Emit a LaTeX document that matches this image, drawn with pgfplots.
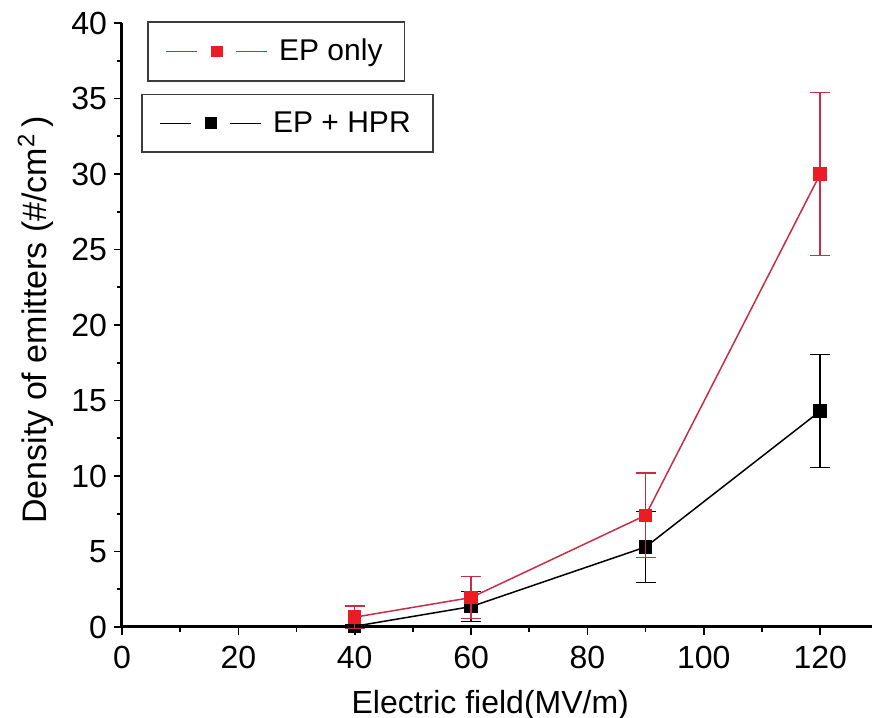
\documentclass[border=0pt]{standalone}
\usepackage{pgfplots}
\pgfplotsset{compat=1.18}
\usepackage{fontspec}
\setmainfont{Liberation Sans}
\definecolor{epred}{RGB}{236,28,36}
\definecolor{epline}{RGB}{200,45,70}
\definecolor{legframe}{RGB}{60,60,60}
\pgfplotstableread{
x y e
40 0.65 0.75
60 1.95 1.40
90 7.40 2.80
120 30.0 5.40
}\eponly
\pgfplotstableread{
x y e
40 0.05 0.10
60 1.35 1.00
90 5.30 2.35
120 14.3 3.75
}\ephpr
\begin{document}
\begin{tikzpicture}
\pgfplotsset{
  common/.style={
    width=375pt, height=302pt, scale only axis,
    xmin=0, xmax=128.9, ymin=0, ymax=40,
    clip=false,
    at={(0pt,0pt)}, anchor=south west,
    legend cell align=left,
  },
}
\begin{axis}[common,
  axis lines=left,
  axis line style={-, line width=1.5pt},
  tick align=outside,
  major tick length=4pt, minor tick length=2.5pt,
  tick style={line width=0.8pt, black},
  xtick={0,20,...,120}, ytick={0,5,...,40},
  minor x tick num=1, minor y tick num=1,
  /pgf/number format/assume math mode=true,
  ticklabel style={font=\fontsize{16}{19}\selectfont},
  xticklabel style={yshift=-2pt},
  xlabel={Electric field(MV/m)},
  ylabel={Density of emitters (\#/cm\textsuperscript{2}\,)},
  xlabel style={at={(axis description cs:0.491,-0.1424)}, anchor=base,
    font=\fontsize{16}{19}\selectfont},
  ylabel style={at={(axis description cs:-0.1,0.508)}, anchor=base,
    font=\fontsize{17}{20}\selectfont},
  legend style={at={(axis description cs:0.025,0.883)}, anchor=north west,
    draw=legframe, line width=0.9pt, inner xsep=9pt, inner ysep=6.5pt,
    font=\fontsize{15}{18}\selectfont,
    /tikz/every odd column/.append style={column sep=3.5pt}},
  legend image code/.code={
    \draw[#1,mark=none] (0pt,0pt) -- (15.5pt,0pt);
    \draw[#1,mark=none] (35pt,0pt) -- (50.5pt,0pt);
    \draw[#1,only marks,mark size=2.6pt] plot coordinates {(25.5pt,0pt)};
  },
]
\addplot[black, line width=0.75pt, mark=square*, mark size=3pt,
  mark options={solid, fill=black},
  error bars/.cd, y dir=both, y explicit,
  error bar style={line width=0.75pt, black},
  error mark options={rotate=90, mark size=5pt, line width=0.75pt}]
  table[x=x, y=y, y error=e] {\ephpr};
\addlegendentry{EP + HPR}
\end{axis}
\begin{axis}[common, hide axis,
  legend style={at={(axis description cs:0.033,1.003)}, anchor=north west,
    draw=legframe, line width=0.9pt, inner xsep=9pt, inner ysep=6.5pt,
    font=\fontsize{15}{18}\selectfont,
    /tikz/every odd column/.append style={column sep=3.5pt}},
  legend image code/.code={
    \draw[#1,mark=none] (0pt,0pt) -- (15.5pt,0pt);
    \draw[#1,mark=none] (35pt,0pt) -- (50.5pt,0pt);
    \draw[#1,only marks,mark size=2.6pt] plot coordinates {(25.5pt,0pt)};
  },
]
\addplot[epline, line width=0.75pt, mark=square*, mark size=3pt,
  mark options={solid, fill=epred, draw=epred},
  error bars/.cd, y dir=both, y explicit,
  error bar style={line width=0.75pt, epline},
  error mark options={rotate=90, mark size=5pt, line width=0.75pt}]
  table[x=x, y=y, y error=e] {\eponly};
\addlegendentry{EP only}
\end{axis}
\pgfresetboundingbox
\path[use as bounding box] (-61pt,-45pt) rectangle (375pt,313.5pt);
\end{tikzpicture}
\end{document}
